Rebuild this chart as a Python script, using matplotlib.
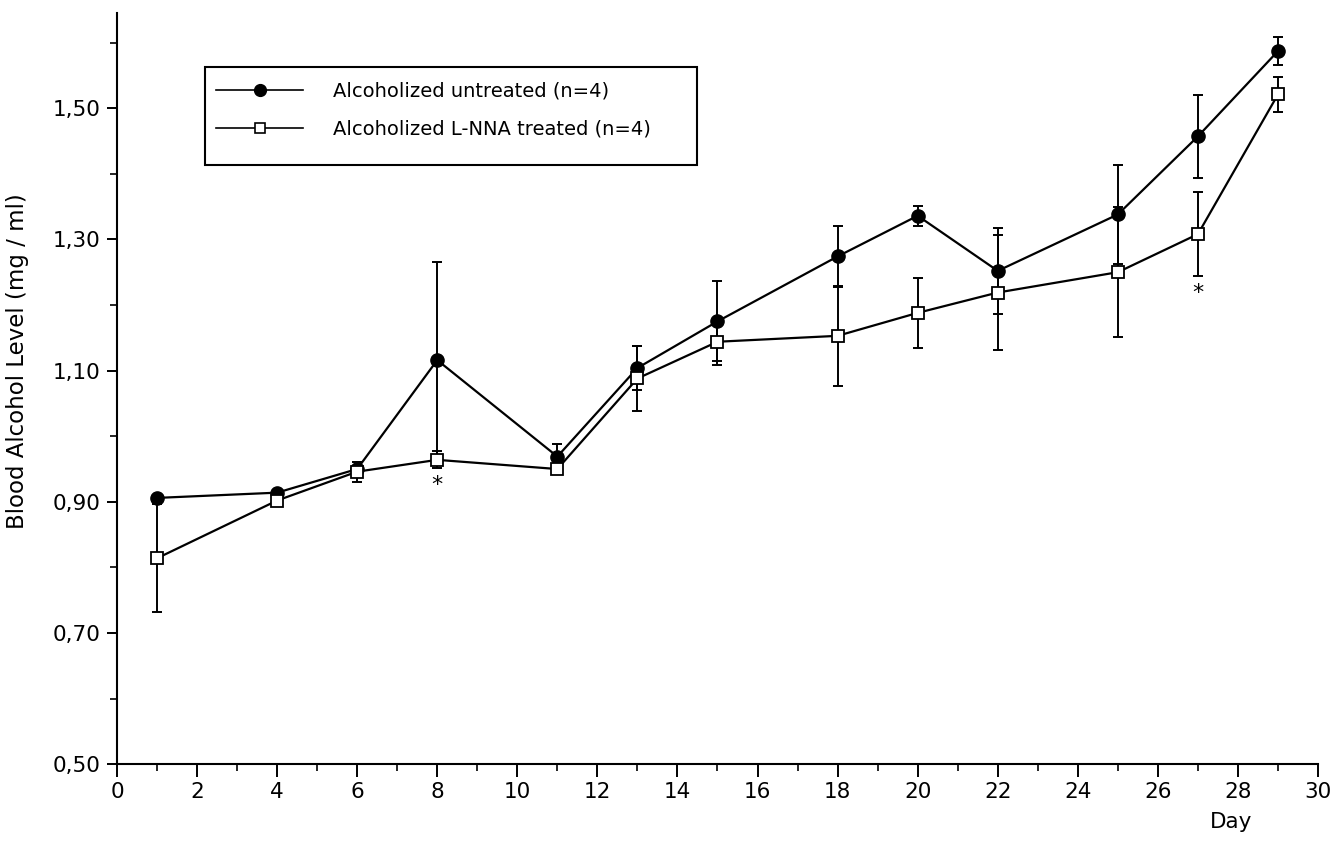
"""
Blood alcohol level over time, untreated vs L-NNA treated
"""

import matplotlib
matplotlib.use('Agg')
import matplotlib.pyplot as plt
from matplotlib.ticker import MultipleLocator, FuncFormatter
from matplotlib.lines import Line2D
from matplotlib.patches import Rectangle

# Data
days = [1, 4, 6, 8, 11, 13, 15, 18, 20, 22, 25, 27, 29]
untreated = [0.906, 0.914, 0.950, 1.116, 0.969, 1.104, 1.175, 1.274, 1.336, 1.252, 1.338, 1.457, 1.587]
untreated_err = [0.003, 0.004, 0.010, 0.149, 0.019, 0.033, 0.061, 0.046, 0.015, 0.065, 0.076, 0.063, 0.022]
treated = [0.814, 0.902, 0.946, 0.964, 0.950, 1.088, 1.144, 1.153, 1.188, 1.219, 1.250, 1.308, 1.521]
treated_err = [0.082, 0.005, 0.015, 0.013, 0.008, 0.050, 0.035, 0.076, 0.053, 0.088, 0.099, 0.064, 0.027]
star_days = [8, 27]
star_levels = [0.925, 1.218]

plt.rcParams['font.family'] = ['DejaVu Sans']

W, H = 1335, 861
fig = plt.figure(figsize=(W / 100, H / 100), dpi=100)
ax = fig.add_axes([0.0876, 0.1123, 0.8997, 0.8726])

# error bars first, then lines and markers on top
ax.errorbar(days, untreated, yerr=untreated_err, fmt='none', ecolor='black',
            elinewidth=1.4, capsize=3.8, capthick=1.4, zorder=2)
ax.errorbar(days, treated, yerr=treated_err, fmt='none', ecolor='black',
            elinewidth=1.4, capsize=3.8, capthick=1.4, zorder=2)
ax.plot(days, untreated, color='black', lw=1.6, marker='o', markersize=9.5,
        markerfacecolor='black', markeredgecolor='black', zorder=3)
ax.plot(days, treated, color='black', lw=1.6, marker='s', markersize=8,
        markerfacecolor='white', markeredgecolor='black', markeredgewidth=1.3, zorder=4)

for d, lv in zip(star_days, star_levels):
    ax.text(d, lv, '*', ha='center', va='center', fontsize=16)

ax.set_xlim(0, 30)
ax.set_ylim(0.5, 1.645)
ax.xaxis.set_major_locator(MultipleLocator(2))
ax.xaxis.set_minor_locator(MultipleLocator(1))
ax.yaxis.set_minor_locator(MultipleLocator(0.1))
ax.set_yticks([0.5, 0.7, 0.9, 1.1, 1.3, 1.5])
ax.yaxis.set_major_formatter(FuncFormatter(lambda v, p: f'{v:.2f}'.replace('.', ',')))

for s in ['top', 'right']:
    ax.spines[s].set_visible(False)
for s in ['left', 'bottom']:
    ax.spines[s].set_linewidth(1.5)

ax.tick_params(axis='both', which='major', direction='out', width=1.4, labelsize=15.5)
ax.tick_params(axis='x', which='major', length=9, pad=4)
ax.tick_params(axis='x', which='minor', length=5, width=1.2)
ax.tick_params(axis='y', which='major', length=7, pad=5)
ax.tick_params(axis='y', which='minor', length=5, width=1.2)

fig.text(18 / W, 1 - 361 / H, 'Blood Alcohol Level (mg / ml)', rotation=90,
         ha='center', va='center', fontsize=16.5)
fig.text(1231 / W, 1 - 822 / H, 'Day', ha='center', va='center', fontsize=15.5)

# legend box drawn by hand, legend entries placed inside it
fig.patches.append(Rectangle((205 / W, 1 - 165 / H), 492 / W, 98 / H,
                             transform=fig.transFigure, fill=False,
                             edgecolor='black', linewidth=1.5, zorder=5))
handles = [
    Line2D([], [], color='black', lw=1.2, marker='o', markersize=8.5,
           markerfacecolor='black'),
    Line2D([], [], color='black', lw=1.2, marker='s', markersize=7,
           markerfacecolor='white', markeredgewidth=1.2),
]
labels = ['Alcoholized untreated (n=4)', 'Alcoholized L-NNA treated (n=4)']
leg = fig.legend(handles, labels, loc='upper left',
                 bbox_to_anchor=(214 / W, 1 - 80 / H),
                 fontsize=14, handlelength=4.5, handletextpad=1.5,
                 labelspacing=0.95, borderpad=0.1, frameon=False, borderaxespad=0)

plt.savefig('out.png', dpi=100, facecolor='white')
plt.close()
